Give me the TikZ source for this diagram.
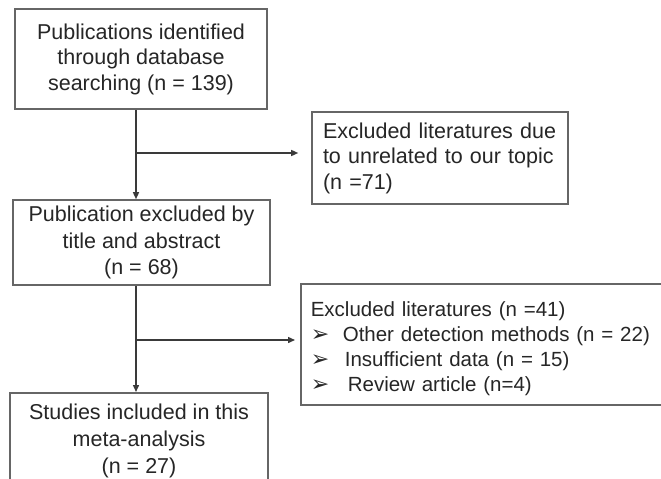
\documentclass[tikz,border=0pt]{standalone}
\usepackage{fontspec}
\setmainfont{Liberation Sans}
\newfontfamily\symfont{DejaVu Sans}
\usetikzlibrary{arrows.meta}
\definecolor{txt}{HTML}{262626}
\definecolor{frame}{HTML}{666666}
\definecolor{conn}{HTML}{3A3A3A}
\newcommand{\bul}[1]{\makebox[0pt][l]{\raisebox{0pt}{\fontsize{22}{22}\selectfont\symfont ➢}}\hspace*{#1}}
\begin{document}
\begin{tikzpicture}[x=1pt,y=-1pt,
  box/.style={draw=frame,line width=1.6pt,rectangle,inner ysep=0pt,
    font=\fontsize{21.5}{25.5}\selectfont,text=txt},
  conn/.style={draw=conn,line width=1.4pt,-{Triangle[length=7pt,width=6pt]}}]
\clip (0,0) rectangle (661,479);
\fill[white] (0,0) rectangle (661,479);
\node[box,minimum width=252pt,minimum height=100pt,align=center,inner xsep=0pt] (b1) at (141,59)
  {Publications identified\\through database\\searching (n = 139)};
\node[box,minimum width=256pt,minimum height=92pt,align=left,text width=234pt,inner xsep=11pt] (b2) at (440,158)
  {Excluded literatures due\\to unrelated to our topic\\(n =71)};
\node[box,minimum width=257pt,minimum height=85pt,align=center,inner xsep=0pt,
  font=\fontsize{21.5}{26.5}\selectfont] (b3) at (141.5,242.5)
  {Publication excluded by\\title and abstract\\(n = 68)};
\node[box,minimum width=420pt,minimum height=121pt,align=left,text width=400pt,inner xsep=10pt,anchor=west,
  font=\fontsize{20.5}{25}\selectfont] (b4) at (300,344.5)
  {\rule{0pt}{24pt}Excluded literatures (n =41)\\
   \bul{32pt}Other detection methods (n = 22)\\
   \bul{34pt}Insufficient data (n = 15)\\
   \bul{37pt}Review article (n=4)};
\node[box,minimum width=258pt,minimum height=96pt,align=center,inner xsep=0pt,anchor=north,
  font=\fontsize{21.5}{27}\selectfont] (b5) at (139,392)
  {Studies included in this\\meta-analysis\\(n = 27)};
\coordinate (v) at (136,0);
\coordinate (j1) at (136,153);
\coordinate (j2) at (136,340);
\draw[conn] (b1.south -| v) -- (b3.north -| v);
\draw[conn] (b3.south -| v) -- (b5.north -| v);
\draw[conn,shorten >=13pt] (j1) -- (j1 -| b2.west);
\draw[conn,shorten >=5pt] (j2) -- (j2 -| b4.west);
\end{tikzpicture}
\end{document}
